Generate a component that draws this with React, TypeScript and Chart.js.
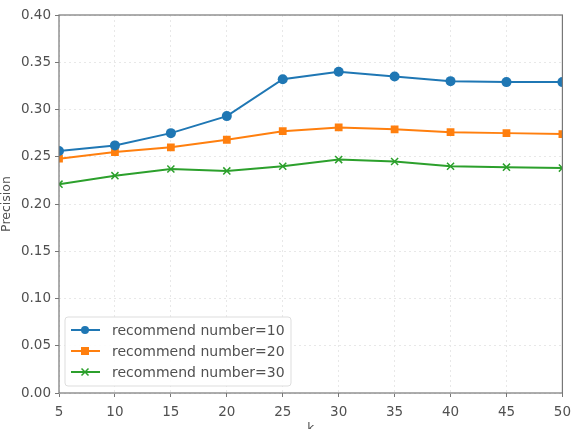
import React, { useEffect, useRef } from "react";
import { Chart, registerables } from "chart.js";

Chart.register(...registerables);

const kValues = [5, 10, 15, 20, 25, 30, 35, 40, 45, 50];
const precisionN10 = [0.256, 0.262, 0.275, 0.293, 0.332, 0.34, 0.335, 0.33, 0.329, 0.329];
const precisionN20 = [0.248, 0.255, 0.26, 0.268, 0.277, 0.281, 0.279, 0.276, 0.275, 0.274];
const precisionN30 = [0.221, 0.23, 0.237, 0.235, 0.24, 0.247, 0.245, 0.24, 0.239, 0.238];
const seriesLabels = ["recommend number=10", "recommend number=20", "recommend number=30"];
const seriesColors = ["#1f77b4", "#ff7f0e", "#2ca02c"];
const seriesMarkers = ["circle", "rect", "crossRot"];

const FONT = "'DejaVu Sans', sans-serif";
const TEXT = "#505050";

// Matplotlib-like frame and an in-axes legend in the lower-left corner
const framePlugin = {
  id: "frameAndLegend",
  afterDatasetsDraw(chart: any) {
    const { ctx, chartArea: a } = chart;
    ctx.save();
    ctx.strokeStyle = "#777";
    ctx.lineWidth = 1.2;
    ctx.strokeRect(a.left, a.top, a.right - a.left, a.bottom - a.top);

    const bx = a.left + 6;
    const by = a.bottom - 76;
    const bw = 226;
    const bh = 69;
    ctx.fillStyle = "rgba(255,255,255,0.9)";
    ctx.strokeStyle = "#ddd";
    ctx.lineWidth = 1;
    ctx.beginPath();
    ctx.roundRect(bx, by, bw, bh, 3);
    ctx.fill();
    ctx.stroke();

    ctx.font = `14px ${FONT}`;
    ctx.textBaseline = "middle";
    seriesLabels.forEach((label, i) => {
      const cy = by + 13 + i * 21;
      const color = seriesColors[i];
      ctx.strokeStyle = color;
      ctx.lineWidth = 2;
      ctx.beginPath();
      ctx.moveTo(bx + 6, cy);
      ctx.lineTo(bx + 35, cy);
      ctx.stroke();
      ctx.fillStyle = color;
      const mx = bx + 20;
      if (i === 0) {
        ctx.beginPath();
        ctx.arc(mx, cy, 4, 0, Math.PI * 2);
        ctx.fill();
      } else if (i === 1) {
        ctx.fillRect(mx - 4, cy - 4, 8, 8);
      } else {
        ctx.lineWidth = 1.5;
        ctx.beginPath();
        ctx.moveTo(mx - 3.5, cy - 3.5);
        ctx.lineTo(mx + 3.5, cy + 3.5);
        ctx.moveTo(mx + 3.5, cy - 3.5);
        ctx.lineTo(mx - 3.5, cy + 3.5);
        ctx.stroke();
      }
      ctx.fillStyle = TEXT;
      ctx.textAlign = "left";
      ctx.fillText(label, bx + 47, cy + 1);
    });
    ctx.restore();
  },
};

export default function App() {
  const canvasRef = useRef<HTMLCanvasElement | null>(null);

  useEffect(() => {
    document.body.style.margin = "0";
    const canvas = canvasRef.current;
    if (!canvas) return;
    const data = [precisionN10, precisionN20, precisionN30];
    const gridStyle = {
      color: "#e8e8e8",
      lineWidth: 1,
      tickLength: 4,
      tickColor: "#777",
    };
    const chart = new Chart(canvas, {
      type: "line",
      data: {
        datasets: data.map((vals, i) => ({
          label: seriesLabels[i],
          data: vals.map((v, j) => ({ x: kValues[j], y: v })),
          borderColor: seriesColors[i],
          backgroundColor: seriesColors[i],
          borderWidth: 2,
          pointStyle: seriesMarkers[i] as any,
          pointRadius: i === 1 ? 5.5 : 5,
          pointBorderWidth: i === 2 ? 1.5 : 0,
          pointBorderColor: seriesColors[i],
          pointBackgroundColor: seriesColors[i],
          tension: 0,
          fill: false,
        })),
      },
      options: {
        animation: false,
        responsive: false,
        devicePixelRatio: 1,
        layout: { padding: { top: 15, right: 15, left: 0, bottom: 0 } },
        plugins: {
          legend: { display: false },
          tooltip: { enabled: false },
        },
        scales: {
          x: {
            type: "linear",
            min: 5,
            max: 50,
            border: { display: false, dash: [2, 3] },
            afterFit(scale: any) {
              scale.height = 36;
            },
            ticks: {
              stepSize: 5,
              color: TEXT,
              font: { family: FONT, size: 13.5 },
              padding: 7,
              maxRotation: 0,
            },
            grid: gridStyle,
            title: {
              display: true,
              text: "k",
              color: TEXT,
              font: { family: FONT, size: 12 },
              padding: { top: 0, bottom: -7 },
            },
          },
          y: {
            min: 0,
            max: 0.4,
            border: { display: false, dash: [2, 3] },
            afterFit(scale: any) {
              scale.width = 59;
            },
            ticks: {
              stepSize: 0.05,
              color: TEXT,
              font: { family: FONT, size: 13.5 },
              padding: 4,
              callback: (v: any) => Number(v).toFixed(2),
            },
            grid: gridStyle,
            title: {
              display: true,
              text: "Precision",
              color: TEXT,
              font: { family: FONT, size: 12.5 },
              padding: { top: -1, bottom: 0 },
            },
          },
        },
      },
      plugins: [framePlugin],
    });
    return () => chart.destroy();
  }, []);

  return (
    <div style={{ width: 578, height: 429, background: "#fff" }}>
      <canvas ref={canvasRef} width={578} height={429} style={{ display: "block" }} />
    </div>
  );
}
